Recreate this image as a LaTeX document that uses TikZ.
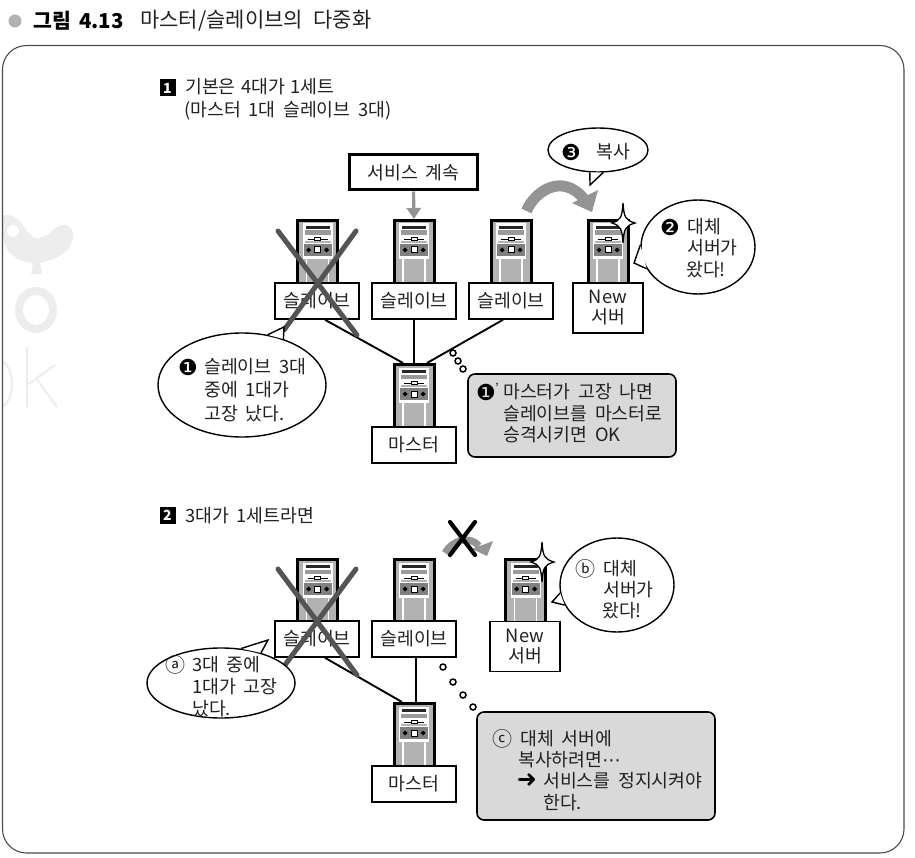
\documentclass[tikz,border=0pt]{standalone}
\usepackage{fontspec}
\setmainfont{Noto Sans CJK KR}
\newfontfamily\djv{DejaVu Sans}
\usetikzlibrary{shapes.geometric,arrows.meta}
\definecolor{txt}{gray}{0.13}
\definecolor{crossc}{gray}{0.33}
\definecolor{arrowc}{gray}{0.58}
\definecolor{panel}{gray}{0.85}
\definecolor{wmark}{gray}{0.93}
\newcommand\wordgap[1]{\spaceskip #1\relax}
\newcommand\bodyfont{\fontsize{18.3}{22}\selectfont\wordgap{.42em}}
\newcommand\headfont{\fontsize{18.3}{22}\selectfont\wordgap{.3em}}
\newcommand\figfont{\fontsize{20.5}{24}\selectfont\bfseries\wordgap{.4em}}
\newcommand\captfont{\fontsize{21}{24}\selectfont\wordgap{.5em}}
\tikzset{
 x=1pt,y=-1pt,
 lbl/.style={draw=black,line width=1.6pt,fill=white,minimum width=84pt,minimum height=36pt,inner sep=0pt,align=center,font=\bodyfont,text=txt},
 newlbl/.style={lbl,minimum width=70pt,minimum height=50pt},
 srvbody/.style={draw=black,line width=3pt,fill=black!30,minimum width=40pt,minimum height=63pt,inner sep=0pt},
 txtn/.style={anchor=west,inner sep=0pt,font=\bodyfont,text=txt},
 numn/.style={anchor=center,inner sep=0pt,font=\djv\fontsize{22}{22}\selectfont,text=black},
 letn/.style={anchor=center,inner sep=0pt,font=\fontsize{20}{22}\selectfont,text=txt},
 bubble/.style={ellipse,draw=black,line width=1.4pt,fill=white,inner sep=0pt},
 tailline/.style={draw=black,line width=1.4pt,line join=miter},
 crossl/.style={draw=crossc,line width=5pt,line cap=round},
 blackx/.style={draw=black,line width=4.2pt,line cap=round},
 link/.style={draw=black,line width=1.9pt},
 graybox/.style={draw=black,line width=1.6pt,fill=panel,rounded corners=7pt,inner sep=0pt},
 dotc/.style={circle,draw=black,line width=1.5pt,fill=white,minimum size=6pt,inner sep=0pt},
 badge/.style={fill=black,text=white,minimum width=16pt,minimum height=17pt,inner sep=0pt,font=\fontsize{14}{14}\selectfont\bfseries},
}
\newcommand\srv[3]{%
 \begin{scope}[shift={(#2,#3)}]
  \node[srvbody] (#1) at (0,32) {};
  \fill[white] (-15,3.5) rectangle (15,38);
  \fill[black!85] (-12,6) rectangle (12,9);
  \fill[black!40] (-13,10.5) rectangle (13,15);
  \fill[black!30] (-13,21) rectangle (13,23);
  \draw[black,line width=.8pt] (-10,19) -- (10,19);
  \draw[black,line width=.8pt,fill=white] (-3,17.5) rectangle (3,20.5);
  \fill[black!50] (-14,24) rectangle (14,36);
  \fill[black] (-9,27.5) -- (-6.5,30) -- (-9,32.5) -- (-11.5,30) -- cycle;
  \fill[black] (9,27.5) -- (11.5,30) -- (9,32.5) -- (6.5,30) -- cycle;
  \draw[black,line width=1pt,fill=white] (-3,27) rectangle (3,33);
  \draw[white,line width=1.6pt] (-11,38) -- (-11,62.5);
  \draw[white,line width=1.6pt] (11,38) -- (11,62.5);
  \draw[white,line width=1.6pt] (-15,38) -- (15,38);
 \end{scope}}
\newcommand\sparkle[3]{%
 \coordinate (#1) at (#2,#3);
 \draw[black,line width=1.3pt,fill=white,shift={(#2,#3)}]
  (0,-20) .. controls (1,-6) and (2,-3) .. (12,0) .. controls (2,3) and (1,6) .. (0,20)
  .. controls (-1,6) and (-2,3) .. (-11,0) .. controls (-2,-3) and (-1,-6) .. (0,-20) -- cycle;}
\newcommand\tail[4]{%
 \fill[white] (#1.#2) -- (#4) -- (#1.#3) -- cycle;
 \draw[tailline] (#1.#2) -- (#4) -- (#1.#3);}
\begin{document}
\begin{tikzpicture}
\useasboundingbox (0,0) rectangle (915,858);
\fill[white] (0,0) rectangle (915,858);
% watermark
\fill[wmark] (3,216) .. controls (20,210) and (25,235) .. (35,238) .. controls (50,240) and (55,222) .. (66,225)
  .. controls (80,230) and (72,250) .. (58,257) .. controls (50,261) and (42,262) .. (40,263)
  -- (42,274) -- (31,274) -- (33,263) .. controls (15,262) and (3,250) .. (3,235) -- cycle;
\fill[white] (13,231) circle (6);
\draw[wmark,line width=8pt] (36,310) ellipse (17 and 19);
\draw[wmark,line width=2pt] (27,347) -- (27,407) (27,385) -- (55,365) (36,378) -- (57,407);
\draw[wmark,line width=2pt] (3,362) .. controls (15,368) and (15,400) .. (3,406);
% frame
\draw[black!70,line width=1.1pt,rounded corners=24pt] (2.5,45.5) rectangle (904,853);
% title
\fill[black!30] (15,21) circle (6.5);
\node[txtn,font=\figfont,text=black] (figno) at (33,21) {그림 4.13};
\node[txtn,font=\captfont] (figtitle) at (140,21) {마스터/슬레이브의 다중화};
% section 1 heading
\node[badge] (badgeA) at (167.5,88) {1};
\node[txtn,font=\headfont] (headA1) at (185,87) {기본은 4대가 1세트};
\node[txtn] (headA2) at (184,111) {(마스터 1대 슬레이브 3대)};
% section 1 servers
\srv{sA}{317.5}{220}
\srv{sB}{414}{220}
\srv{sC}{511}{220}
\srv{sN}{608}{220}
\srv{sM}{414}{364}
\node[lbl] (lA) at (317,301) {슬레이브};
\node[lbl] (lB) at (414,301) {슬레이브};
\node[lbl] (lC) at (511,301) {슬레이브};
\node[newlbl] (lN) at (608,308) {New\\[-2pt]서버};
\node[lbl] (lM) at (414,445) {마스터};
\node[draw=black,line width=3pt,fill=white,minimum width=128pt,minimum height=35pt,inner sep=0pt,font=\bodyfont,text=txt] (svc) at (413.5,172.5) {서비스 계속};
\draw[arrowc,line width=3.2pt,-{Triangle[length=11pt,width=14pt]}] (svc.south) -- (sB.north);
% links
\draw[link] ([xshift=8]lA.south) -- ([xshift=-11]sM.north);
\draw[link] (lB.south) -- (sM.north);
\draw[link] ([xshift=-8]lC.south) -- ([xshift=13]sM.north);
% cross A
\coordinate (crA1) at (278,231);
\coordinate (crA2) at (357,335);
\coordinate (crA3) at (356,231);
\coordinate (crA4) at (284,330);
\draw[crossl] (crA1) -- (crA2);
\draw[crossl] (crA3) -- (crA4);
% copy arrow
\coordinate (cpS) at (526.5,211);
\coordinate (cpE) at (584,199);
\draw[arrowc,line width=11pt] (cpS) .. controls (534,192) and (562,172) .. (cpE);
\fill[arrowc] (598,190) -- (592,212) -- (572,203) -- cycle;
\sparkle{stA}{623}{223}
% bubble 3
\node[bubble,minimum width=100pt,minimum height=44pt] (bu3) at (598,150) {};
\tail{bu3}{250}{283}{590,185}
\node[numn] (nu3) at (571,152) {❸};
\node[txtn] (tx3) at (596,152) {복사};
% bubble 2
\node[bubble,minimum width=114pt,minimum height=94pt] (bu2) at (698,247) {};
\tail{bu2}{178}{203}{634,263}
\node[numn] (nu2) at (670,227) {❷};
\node[txtn] (tx2a) at (687,227) {대체};
\node[txtn] (tx2b) at (687,248) {서버가};
\node[txtn] (tx2c) at (686,270) {왔다!};
% bubble 1
\node[bubble,minimum width=168pt,minimum height=104pt] (bu1) at (242,385) {};
\tail{bu1}{63}{48}{284,327}
\node[numn] (nu1) at (188,367) {❶};
\node[txtn] (tx1a) at (204,367) {슬레이브 3대};
\node[txtn] (tx1b) at (204,390) {중에 1대가};
\node[txtn] (tx1c) at (204,414) {고장 났다.};
% panel 1'
\node[dotc] (dA2) at (453,353) {};
\node[dotc] (dA3) at (458,361) {};
\node[dotc] (dA4) at (463,369) {};
\node[graybox,minimum width=208pt,minimum height=83pt] (pnA) at (572,415.5) {};
\node[numn] (nuP) at (486,392) {❶};
\node[anchor=center,inner sep=0pt,font=\fontsize{12}{12}\selectfont] (prime) at (497,388) {'};
\node[txtn] (pa1) at (503,392) {마스터가 고장 나면};
\node[txtn] (pa2) at (503,414) {슬레이브를 마스터로};
\node[txtn] (pa3) at (503,435) {승격시키면 OK};
% section 2 heading
\node[badge] (badgeB) at (167.5,515.5) {2};
\node[txtn] (headB) at (185,516) {3대가 1세트라면};
% section 2 servers
\srv{tA}{317.5}{559}
\srv{tB}{414}{559}
\srv{tN}{525.5}{559}
\srv{tM}{414}{703}
\node[lbl] (mA) at (317,639) {슬레이브};
\node[lbl] (mB) at (414,639) {슬레이브};
\node[newlbl] (mN) at (525,646.5) {New\\[-2pt]서버};
\node[lbl] (mM) at (414,784) {마스터};
\draw[link] ([xshift=8]mA.south) -- ([xshift=-12]tM.north);
\draw[link] ([xshift=2]mB.south) -- ([xshift=2]tM.north);
% cross B
\coordinate (crB1) at (278,569);
\coordinate (crB2) at (357,675);
\coordinate (crB3) at (356,569);
\coordinate (crB4) at (285,665);
\draw[crossl] (crB1) -- (crB2);
\draw[crossl] (crB3) -- (crB4);
% blocked arrow
\coordinate (blS) at (445,553);
\coordinate (blE) at (479,546);
\draw[arrowc,line width=7pt] (blS) .. controls (452,540) and (470,535) .. (blE);
\fill[arrowc] (493,541) -- (487,556) -- (472,549) -- cycle;
\coordinate (xA) at (450,522);
\coordinate (xB) at (475,555);
\coordinate (xC) at (475,522);
\coordinate (xD) at (450,555);
\draw[blackx] (xA) -- (xB);
\draw[blackx] (xC) -- (xD);
\sparkle{stB}{542}{562}
% bubble b
\node[bubble,minimum width=114pt,minimum height=94pt] (buB) at (617,585) {};
\tail{buB}{188}{201}{552,602}
\node[letn] (nuB) at (585,569) {ⓑ};
\node[txtn] (txBa) at (603,569) {대체};
\node[txtn] (txBb) at (603,590) {서버가};
\node[txtn] (txBc) at (602,611) {왔다!};
% bubble a
\node[bubble,minimum width=148pt,minimum height=70pt] (buA) at (221,683) {};
\tail{buA}{60}{37}{268,640}
\node[letn] (nuA) at (175,665) {ⓐ};
\node[txtn] (txAa) at (192,665) {3대 중에};
\node[txtn] (txAb) at (192,687) {1대가 고장};
\node[txtn] (txAc) at (192,709) {났다.};
% panel c
\node[dotc] (dB1) at (443,667) {};
\node[dotc] (dB2) at (453,682) {};
\node[dotc] (dB3) at (463,695) {};
\node[dotc] (dB4) at (473,707) {};
\node[graybox,minimum width=238pt,minimum height=108pt] (pnB) at (596,766) {};
\node[letn] (nuC) at (502,739) {ⓒ};
\node[txtn] (pb1) at (520,739) {대체 서버에};
\node[txtn] (pb2) at (518,760) {복사하려면{\djv ⋯}};
\node[numn,font=\djv\fontsize{24}{24}\selectfont] (arw) at (527,781) {➜};
\node[txtn] (pb3) at (543,781) {서비스를 정지시켜야};
\node[txtn] (pb4) at (543,803) {한다.};
\end{tikzpicture}
\end{document}
